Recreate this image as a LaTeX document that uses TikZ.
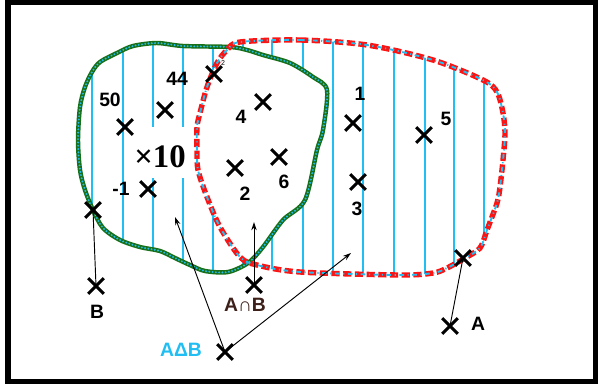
\documentclass[tikz,border=0pt]{standalone}
\usepackage{fontspec}
\setmainfont{Liberation Sans}
\newfontfamily\bigserif{Liberation Serif}
\usetikzlibrary{shapes.misc,arrows.meta}

\definecolor{setblue}{RGB}{32,190,242}
\definecolor{setred}{RGB}{250,20,20}
\definecolor{setgreen}{RGB}{25,112,25}
\definecolor{capbrown}{RGB}{60,32,25}

% outlines of the two sets (pixel grid, y downwards)
\def\pathA{plot[smooth cycle, tension=0.5] coordinates {(240,42) (300,40) (367,45) (433,60) (483,80) (497,92) (503,113) (505,133) (503,160) (500,187) (497,203) (487,230) (480,248) (465,258) (447,268) (433,273) (400,275) (300,272) (257,265) (240,257) (220,227) (207,197) (198,170) (197,150) (197,127) (200,113) (207,87) (217,63) (227,50)}}
\def\pathB{plot[smooth cycle, tension=0.5] coordinates {(92,72) (100,62) (117,53) (133,46) (157,43) (183,46) (230,47) (247,50) (263,55) (290,63) (313,77) (327,90) (323,130) (317,150) (305,200) (283,220) (263,247) (248,263) (228,272) (205,271) (190,265) (175,258) (160,251) (140,247) (120,240) (103,228) (93,210) (85,190) (80,170) (78,140) (80,107) (85,87)}}

\begin{document}
\begin{tikzpicture}[x=0.03cm, y=-0.03cm,
    xmark/.style={cross out, draw=black, line width=2.6pt, minimum size=0.38cm, inner sep=0pt},
    lbl/.style={font=\fontsize{16.5}{18}\selectfont\bfseries, inner sep=0pt},
    hatch/.style={setblue, line width=2.5pt},
    link/.style={black, line width=0.8pt},
    ptr/.style={link, -{Stealth[length=7pt,width=4.5pt]}}]
        \useasboundingbox (0,0) rectangle (598,387);
        \fill[white] (0,0) rectangle (598,387);

        % Hatching of the symmetric difference
        \begin{scope}
            \clip \pathA;
            \foreach \x in {92,123,153,183,213,243,272,303,333,363,394,425,454,484}
                \draw[hatch] (\x,30) -- (\x,290);
        \end{scope}
        \begin{scope}
            \clip \pathB;
            \foreach \x in {92,123,153,183,213,243,272,303,333,363,394,425,454,484}
                \draw[hatch] (\x,30) -- (\x,290);
        \end{scope}
        \begin{scope}
            \clip \pathA;
            \fill[white] \pathB;
        \end{scope}

        % Blank patch with the big label
        \node[fill=white, minimum width=1.85cm, minimum height=1.53cm, inner sep=0pt] (ten) at (159,152) {};
        \node[font=\bigserif\fontsize{28}{30}\selectfont\bfseries, inner sep=0pt] (tenlbl) at (160,157) {×10};

        % Set B (green) and set A (red)
        \draw[setgreen, line width=3.8pt] \pathB;
        \draw[setblue, line width=1.8pt, line cap=round, dash pattern=on 0pt off 2.8pt] \pathB;
        \draw[setred, line width=4.6pt, dash pattern=on 7pt off 3pt] \pathA;
        \draw[setblue, line width=1.6pt, dash pattern=on 4pt off 3pt on 1pt off 3pt] \pathA;

        % Elements
        \node[xmark] (m44) at (165,110) {};
        \node[lbl] (l44) at (177,79) {44};
        \node[xmark] (m2top) at (214,74) {};
        \node[font=\fontsize{6}{7}\selectfont, inner sep=0pt] (l2top) at (223,63) {2};
        \node[xmark] (m50) at (125,127) {};
        \node[lbl] (l50) at (110,100) {50};
        \node[xmark] (m4) at (263,102) {};
        \node[lbl] (l4) at (241,117) {4};
        \node[xmark] (m1) at (353,123) {};
        \node[lbl] (l1) at (360,94) {1};
        \node[xmark] (m5) at (424,135) {};
        \node[lbl] (l5) at (446,119) {5};
        \node[xmark] (mneg) at (148,189) {};
        \node[lbl] (lneg) at (121,189) {-1};
        \node[xmark] (m2) at (235,168) {};
        \node[lbl] (l2) at (245,194) {2};
        \node[xmark] (m6) at (279,157) {};
        \node[lbl] (l6) at (284,182) {6};
        \node[xmark] (m3) at (358,182) {};
        \node[lbl] (l3) at (357,209) {3};

        % Pointers to the sets
        \node[xmark] (mBedge) at (93,210) {};
        \node[xmark] (mB) at (96,286) {};
        \node[lbl] (lB) at (97,312) {B};
        \node[xmark] (mAedge) at (463,258) {};
        \node[xmark] (mA) at (450,326) {};
        \node[lbl] (lA) at (478,324) {A};
        \node[xmark] (mAB) at (254,285) {};
        \node[lbl, text=capbrown] (lAB) at (245,305) {A∩B};
        \node[xmark] (mSym) at (225,352) {};
        \node[lbl, text=setblue] (lSym) at (181,350) {AΔB};
        \coordinate (tipAB) at (254,222);
        \coordinate (tipL) at (175,217);
        \coordinate (tipR) at (351,253);

        \draw[link] (mB.center) -- (mBedge.center);
        \draw[link] (mA.center) -- (mAedge.center);
        \draw[ptr] (mAB.center) -- (tipAB);
        \draw[ptr] (mSym.center) -- (tipL);
        \draw[ptr] (mSym.center) -- (tipR);

        % Frame
        \draw[black, line width=5pt] (8,2.5) rectangle (595.5,381.5);
    \end{tikzpicture}
\end{document}
